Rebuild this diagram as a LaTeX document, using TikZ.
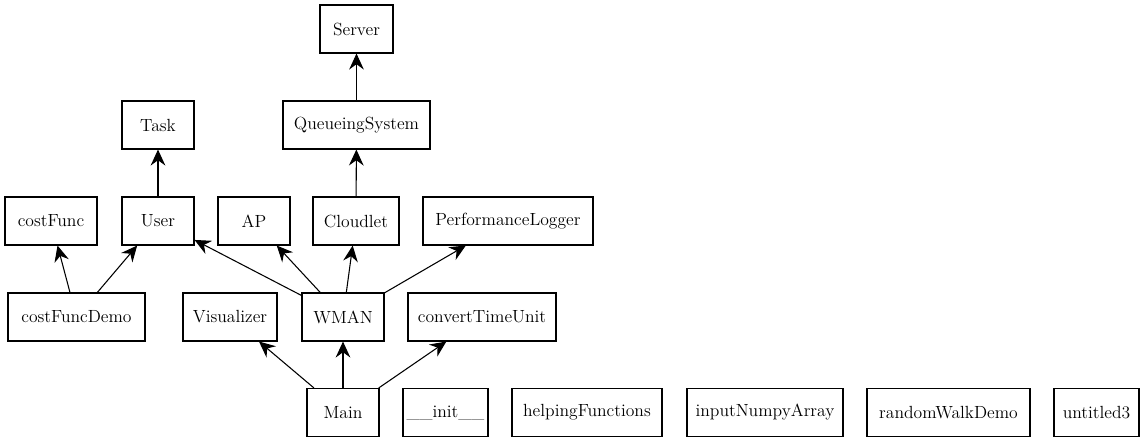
\documentclass[tikz,border=0pt]{standalone}
\usepackage{fontspec}
\setmainfont{Latin Modern Roman}
\usetikzlibrary{arrows.meta}
\begin{document}
\begin{tikzpicture}[x=0.75pt,y=-0.75pt,
  box/.style={draw, rectangle, minimum height=36pt, inner sep=0pt, line width=0.8pt,
    font=\fontsize{13.2}{15}\selectfont},
  dep/.style={-{Stealth[length=12pt,width=11pt,inset=4pt]}, line width=0.8pt}]
\useasboundingbox (0,0) rectangle (1145,443);
\node[box, minimum width=54.75pt] (server) at (356.5,29) {Server};
\node[box, minimum width=54pt] (task) at (158,125) {Task};
\node[box, minimum width=110.25pt] (queue) at (356.5,125) {QueueingSystem};
\node[box, minimum width=69pt] (costfunc) at (51,221) {costFunc};
\node[box, minimum width=54pt] (user) at (158,221) {User};
\node[box, minimum width=54pt] (ap) at (254,221) {AP};
\node[box, minimum width=64.5pt] (cloudlet) at (356,221) {Cloudlet};
\node[box, minimum width=127.5pt] (perf) at (508,221) {PerformanceLogger};
\node[box, minimum width=102.75pt] (cfdemo) at (76.5,317) {costFuncDemo};
\node[box, minimum width=70.5pt] (vis) at (230,317) {Visualizer};
\node[box, minimum width=61.5pt] (wman) at (343,317) {WMAN};
\node[box, minimum width=111pt] (ctu) at (482,317) {convertTimeUnit};
\node[box, minimum width=54pt] (main) at (343,412.5) {Main};
\node[box, minimum width=63.75pt] (init) at (445.5,412.5) {\_\_init\_\_};
\node[box, minimum width=112.5pt] (help) at (587,412.5) {helpingFunctions};
\node[box, minimum width=117pt] (numpy) at (765,412.5) {inputNumpyArray};
\node[box, minimum width=122.25pt] (rwd) at (948.5,412.5) {randomWalkDemo};
\node[box, minimum width=63.75pt] (unt) at (1096.5,412.5) {untitled3};
\draw[dep] (queue) -- (server);
\draw[dep] (user) -- (task);
\draw[dep] (cloudlet) -- (queue);
\draw[dep] (cfdemo) -- (costfunc);
\draw[dep] (cfdemo) -- (user);
\draw[dep] (wman) -- (user);
\draw[dep] (wman) -- (ap);
\draw[dep] (wman) -- (cloudlet);
\draw[dep] (wman) -- (perf);
\draw[dep] (main) -- (vis);
\draw[dep] (main) -- (wman);
\draw[dep] (main) -- (ctu);
\end{tikzpicture}
\end{document}
